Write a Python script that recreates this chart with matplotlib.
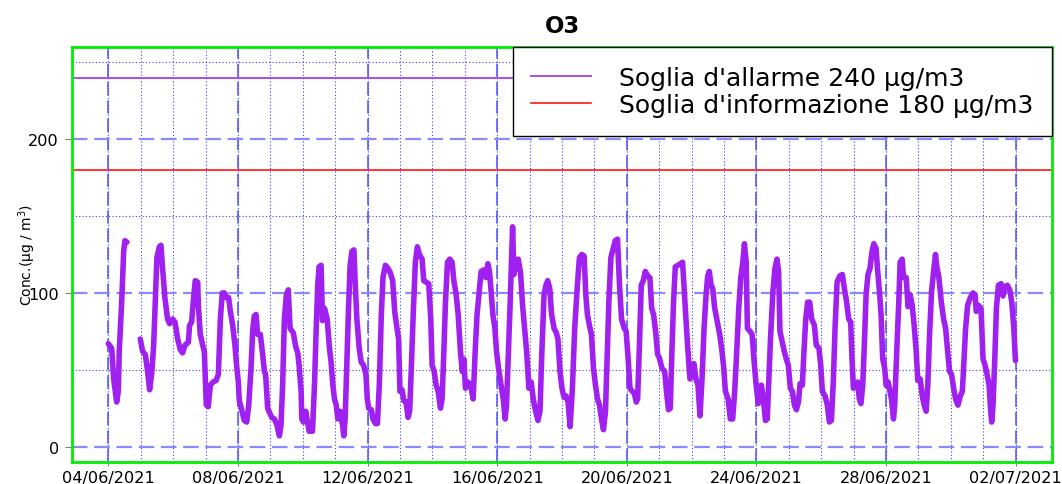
import numpy as np
import pandas as pd
import matplotlib
matplotlib.use("Agg")
import matplotlib.pyplot as plt
import matplotlib.dates as mdates

# ---------------- data ----------------
start_date = "2021-06-04 00:00"
end_date = "2021-07-02 00:00"

hours = [0, 2.5, 4, 6.2, 7.4, 8.1, 9.9, 11.4, 12.3, 13.8, 18,
         23.7, 25.4, 27.4, 29.1, 30.6, 32.1, 33.6, 34.8, 36, 37.8, 39, 40.2, 41.9, 43.9, 45.4, 47.7,
         49.4, 51.4, 53.3, 55, 56.8, 59.3, 60.2, 61.7, 63.2, 64.4, 66.2, 66.7, 68.1, 69.9, 71.1,
         72.6, 74, 75.6, 77.5, 79.8, 81.5, 83, 84.4, 86, 87.4, 89.1, 90.4, 92.1, 93.8, 95,
         96.3, 97, 98.8, 100.7, 102.5, 104, 105.7, 106.9, 108.1, 109.4, 110.6, 112.6, 114.3, 115.6, 116.5,
         118, 121, 123, 124.9, 126.7, 127.9, 129.1, 130.4, 131.9, 133.3,
         134.6, 137, 138.8, 140.3, 141.3, 142.8, 143.3, 144.5, 146.2, 147.7, 148.7, 151.2, 152.7, 153.9,
         155.1, 156.1, 157.6, 158.6, 160.1, 162.1, 163.8, 165, 166.3, 167.5, 168.8, 170, 171.7, 173.5,
         174.4, 175.4, 176.7, 177.9, 179.1, 180.4, 181.9, 182.9, 184.1, 185.8, 187.3, 189, 190.8, 191.8,
         192.8, 194.8, 196, 197.8, 199.3, 200.7, 202.2, 203.4, 205.2, 207.1, 208.9, 210.6, 212.1, 213.8,
         215, 216, 217.5, 218.8, 220.5, 222, 223.2, 224.4, 225.9, 227.4, 228.9, 230.4, 232.4, 233.6,
         235.3, 237.3, 238.8, 239.8, 241.3, 242.8, 244.3, 246, 247.2, 248.5, 249.7, 251.2, 252.9, 254.6,
         255.9, 257.6, 259.1, 260.8, 262.1, 263.3, 264.5, 266.5, 268.3,
         270.2, 271.7, 273.1, 275.1, 276.1, 278.1, 279.6, 281.1, 282.3, 283.5, 284.8, 286.3, 287.5, 289,
         290.5, 292.5, 293.9, 294.9, 295.9, 297.4, 298.4, 299.4, 300.4, 301.6, 303.6, 305.3, 306.8, 308.3,
         309.8, 311.5, 313.2, 314.7, 316.5, 318.2, 319.7, 320.9, 322.7, 324.1, 325.4, 326.9, 328.3, 330.1,
         331.8, 333, 334.5, 336, 337.5, 339, 340.5, 342, 343.7, 345.4, 347.4, 348.9, 350.6, 352.4,
         353.6, 354.8, 356.3, 357.8, 359.3, 360.8, 362.3, 363.8, 365.3, 366.7, 368.2, 369.4, 370.7, 372.2,
         373.9, 375.4, 377.1, 378.6, 380.1, 382.1, 383.5, 385, 386.3, 388, 389.5, 391, 392, 393.2,
         394.7, 396.2, 397.7, 399.4, 401.1, 402.4, 403.8, 405.3, 406.8,
         408, 410, 412, 413.7, 414.9, 416.2, 417.4, 418.6, 419.9, 421.9, 423.8, 425.3, 426.3, 427.8,
         429.3, 430.8, 432.3, 433.7, 435.2, 436.7, 438.2, 439.7, 441.2, 442.7, 443.9, 445.1, 446.4, 447.6,
         449.1, 451.1, 452.8, 454.5, 455.8, 457, 459, 460.7, 462.4, 463.9, 465.4, 466.9, 468.4, 469.9,
         471.1, 472.4, 473.3, 475.3, 476.8, 478.3, 479.8, 481.3, 482.3, 483.7, 485.2, 486.7, 488, 489.2,
         490.4, 492.2, 493.7, 495.2, 496.4, 497.4, 499.1, 500.6, 502.1, 503.6, 505.1, 506.6, 508.1, 509.6,
         511.1, 512.3, 514, 515.2, 516.5, 517.9, 519.4, 520.9, 522.9, 524.3, 526.3, 527.6, 528.8, 530.8,
         532.5, 534, 535.5, 537, 538.2, 539.7, 541.7, 543.6,
         545.1, 546.8, 548.3, 549.8, 550.8, 551.8, 553.2, 555, 556.2, 557.4, 558.7, 559.9, 561.2, 562.6,
         564.1, 565.6, 566.9, 568.6, 569.6, 571.1, 572.3, 573.5, 575, 576, 577.5, 578.5, 580, 581.5,
         582.4, 583.9, 585.4, 586.4, 587.9, 588.9, 590.9, 592.3, 593.8, 595.3, 596.8, 598.3, 599.5, 601.3,
         602.8, 604.2, 605.7, 606.9, 608.2, 609.7, 611.2, 612.6, 613.6, 615.1, 616.9, 618.6, 620.1, 621.6,
         623, 624.5, 626, 627.5, 629.2, 631, 632.5, 633.7, 634.9, 636.4, 638.4, 640.4, 641.9, 642.8,
         644.3, 646.3, 647.8, 649.3, 650.8, 652.3, 653.2, 654.2, 655.2, 656.5, 657.7, 659.2, 661.2, 662.6,
         664.1, 665.8, 667.6, 669.1, 670.6, 671.8]

o3 = [67, 64, 44, 29, 36, 62, 94, 127, 134, 133, np.nan,
      70, 62, 60, 49, 37, 47, 66, 94, 123, 130, 131, 116, 97, 83, 80, 83,
      81, 70, 63, 61, 66, 68, 79, 81, 97, 108, 107, 92, 73, 66, 62,
      27, 26, 40, 42, 43, 47, 83, 100, 100, 97, 97, 88, 79, 66, 53,
      42, 30, 24, 17, 16, 27, 51, 75, 85, 86, 73, 73, 60, 49, 47,
      25, 19, 18, 14, 7, 14, 40, 83, 99, 102,
      77, 74, 65, 61, 53, 36, 18, 16, 23, 15, 10, 10, 40, 75,
      105, 117, 118, 82, 90, 83, 64, 55, 40, 31, 27, 18, 23, 14,
      7, 18, 55, 90, 118, 127, 128, 105, 83, 64, 55, 53, 47, 31,
      25, 24, 18, 15, 15, 40, 86, 110, 118, 116, 113, 108, 88, 77,
      70, 36, 37, 30, 29, 19, 23, 51, 88, 120, 130, 125, 122, 108,
      107, 106, 83, 53, 49, 40, 36, 25, 31, 62, 94, 120, 122, 120,
      108, 99, 86, 62, 49, 57, 38, 42, 40,
      31, 62, 86, 105, 114, 115, 110, 119, 114, 101, 86, 77, 62, 51,
      42, 31, 18, 27, 51, 88, 116, 143, 112, 119, 122, 113, 92, 77,
      62, 38, 42, 31, 23, 17, 23, 57, 99, 105, 108, 103, 86, 77,
      74, 70, 49, 38, 32, 33, 29, 13, 38, 77, 105, 123, 125, 124,
      99, 86, 79, 73, 51, 40, 31, 27, 18, 11, 23, 57, 94, 123,
      129, 134, 135, 105, 83, 77, 75, 57, 38, 36, 35, 29, 31, 62,
      105, 108, 114, 111, 110, 90, 86, 75, 60,
      58, 51, 49, 33, 24, 25, 62, 94, 117, 118, 119, 120, 105, 83,
      62, 44, 47, 54, 44, 40, 20, 44, 77, 99, 111, 114, 105, 103,
      90, 81, 73, 62, 51, 36, 31, 18, 18, 36, 62, 90, 110, 120,
      132, 120, 77, 75, 73, 55, 40, 28, 39, 40, 30, 17, 18, 44,
      70, 101, 116, 122, 114, 75, 68, 62, 57, 53, 38, 36, 27, 24,
      29, 41, 40, 62, 83, 94, 94, 83, 79, 66, 64, 53, 36, 33,
      27, 16, 17, 44, 77, 107, 111, 112,
      103, 94, 83, 81, 57, 38, 41, 42, 31, 28, 40, 66, 99, 112,
      116, 127, 132, 129, 116, 101, 86, 57, 51, 40, 42, 38, 31, 18,
      27, 62, 94, 120, 122, 110, 110, 91, 99, 92, 79, 62, 43, 44,
      33, 27, 23, 40, 73, 101, 114, 125, 117, 110, 94, 83, 77, 62,
      49, 47, 38, 31, 27, 33, 36, 57, 77, 92, 97, 100, 99, 88,
      92, 90, 57, 53, 47, 40, 27, 16, 27, 57, 90, 105, 106, 98,
      104, 105, 102, 94, 77, 56]

alarm_value = 240
info_value = 180
alarm_label = "Soglia d'allarme 240 µg/m3"
info_label = "Soglia d'informazione 180 µg/m3"
title = "O3"
ylabel = "Conc.(µg / m$^{3}$)"
y_major = [0, 100, 200]
y_minor = [50, 150, 250]

# ---------------- plot ----------------
plt.rcParams["font.family"] = ["DejaVu Sans"]
plt.rcParams["mathtext.default"] = "regular"

t0 = pd.Timestamp(start_date)
t1 = pd.Timestamp(end_date)
times = t0 + pd.to_timedelta(hours, unit="h")

fig = plt.figure(figsize=(10.62, 4.85), dpi=100)
ax = fig.add_axes([72 / 1062, 1 - 463 / 485, 980 / 1062, 415 / 485])

span = (t1 - t0)
pad = span * 0.04
ax.set_xlim(t0 - pad, t1 + pad)
ax.set_ylim(-10, 260)

major_days = pd.date_range(t0, t1, freq="4D")
minor_days = pd.date_range(t0, t1, freq="1D")
ax.set_xticks(major_days)
ax.xaxis.set_major_formatter(mdates.DateFormatter("%d/%m/%Y"))
ax.set_xticks(minor_days, minor=True)
ax.set_yticks(y_major)
ax.set_yticks(y_minor, minor=True)

for d in minor_days:
    ax.axvline(d, color="#3a3aff", lw=0.8, ls=(0, (1, 2)), zorder=1)
for d in major_days:
    ax.axvline(d, color="#4a4aff", lw=1.2, ls=(0, (8, 3)), alpha=0.9, zorder=1)
for v in y_minor:
    ax.axhline(v, color="#3a3aff", lw=0.8, ls=(0, (1, 2)), zorder=1)
for v in y_major:
    ax.axhline(v, color="#8a8aff", lw=1.6, ls=(0, (7, 3)), zorder=1)

ax.axhline(alarm_value, color="#A040F0", lw=1.3, zorder=2, label=alarm_label)
ax.axhline(info_value, color="#FF0000", lw=1.1, zorder=2, label=info_label)

ax.plot(times, o3, color="#A020F0", lw=4.0, solid_capstyle="round",
        solid_joinstyle="round", zorder=3)

for s in ax.spines.values():
    s.set_color("#00EE00")
    s.set_linewidth(2)

ax.tick_params(axis="y", which="major", length=5, color="0.5", labelsize=11.6, pad=4.3)
ax.tick_params(axis="x", which="major", length=3, color="0.5", labelsize=11.6, pad=3)
ax.tick_params(which="minor", length=0)

ax.set_title(title, fontsize=16.5, fontweight="bold", pad=11)
ax.set_ylabel(ylabel, fontsize=10)
ax.yaxis.set_label_coords(-0.035, 0.5)

leg = ax.legend(loc="upper right", bbox_to_anchor=(1.0, 1.0), borderaxespad=0,
                fontsize=18, frameon=True, fancybox=False, edgecolor="black",
                framealpha=1, borderpad=0.75, labelspacing=0.12,
                handlelength=2.4, handletextpad=1.1)
leg.get_frame().set_linewidth(1.0)
leg.set_zorder(10)

fig.savefig("out.png", dpi=100)
